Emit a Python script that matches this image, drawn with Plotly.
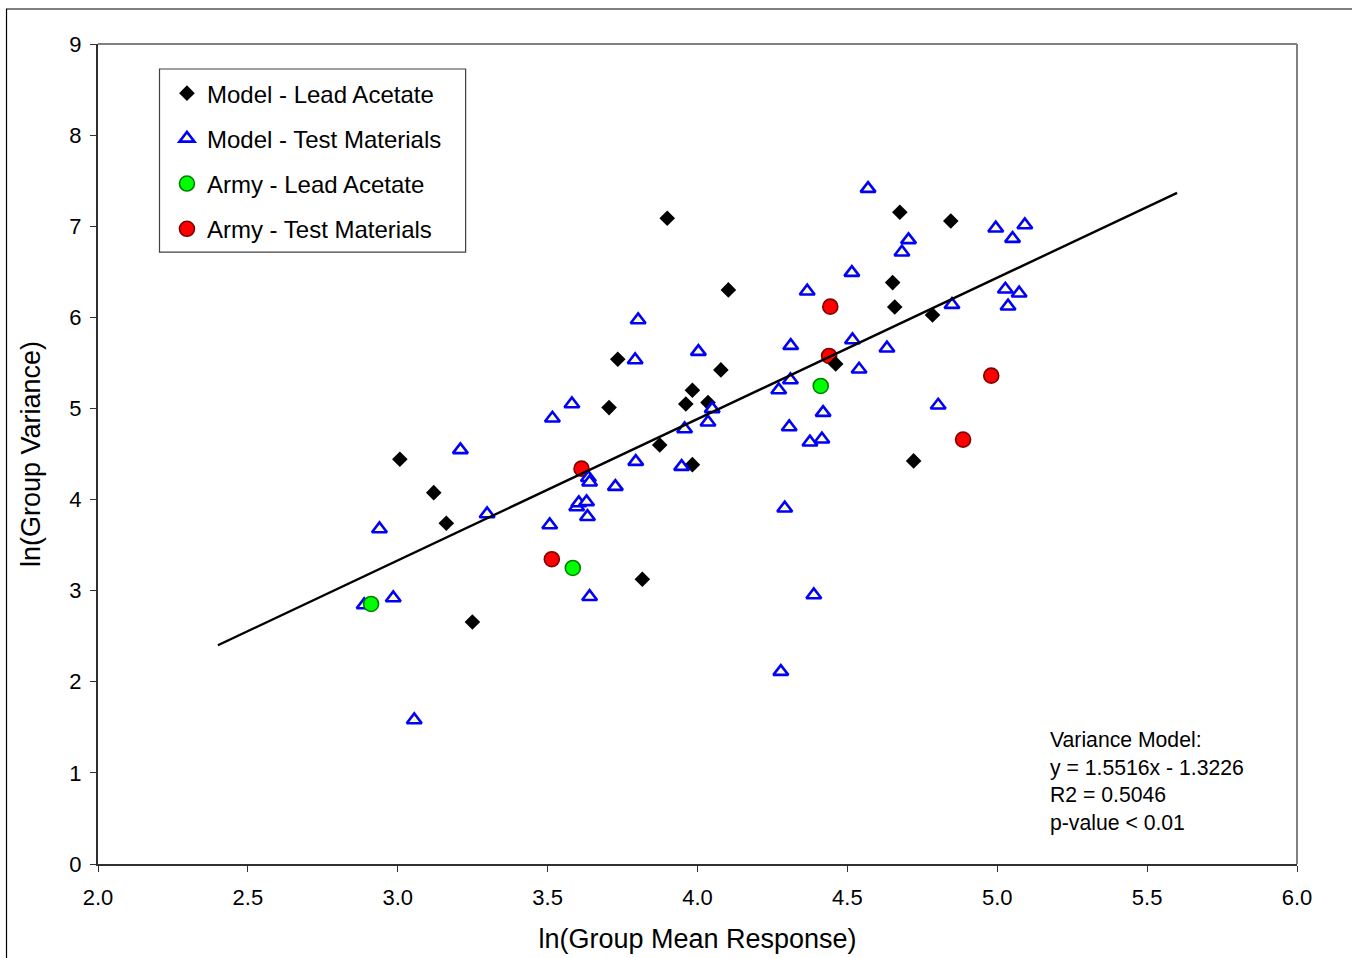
import plotly.graph_objects as go

# ---- data ----
model_lead_x = [3.007, 3.120, 3.162, 3.249, 3.705, 3.734, 3.816, 3.874, 3.899, 3.961, 3.983,
                3.983, 4.035, 4.078, 4.103, 4.461, 4.651, 4.658, 4.675, 4.721, 4.784, 4.845]
model_lead_y = [4.442, 4.076, 3.740, 2.656, 5.009, 5.540, 3.125, 4.599, 7.088, 5.049, 5.200,
                4.383, 5.064, 5.423, 6.301, 5.489, 6.381, 6.114, 7.154, 4.424, 6.026, 7.058]

model_test_x = [2.888, 2.939, 2.985, 3.055, 3.209, 3.298, 3.507, 3.516, 3.581, 3.597, 3.604,
                3.630, 3.636, 3.640, 3.633, 3.640, 3.726, 3.794, 3.792, 3.802, 3.947, 3.957,
                4.003, 4.035, 4.049, 4.271, 4.291, 4.278, 4.306, 4.311, 4.310, 4.366, 4.375,
                4.388, 4.415, 4.419, 4.515, 4.517, 4.539, 4.569, 4.632, 4.682, 4.704, 4.803,
                4.849, 4.995, 5.027, 5.036, 5.051, 5.073, 5.092]
model_test_y = [2.843, 3.677, 2.920, 1.581, 4.545, 3.842, 3.721, 4.892, 5.049, 3.919, 3.963,
                3.974, 4.240, 4.190, 3.812, 2.934, 4.142, 4.416, 5.532, 5.971, 4.361, 4.775,
                5.624, 4.849, 4.995, 5.203, 3.905, 2.111, 4.797, 5.689, 5.313, 6.287, 4.629,
                2.953, 4.662, 4.954, 6.491, 5.752, 5.430, 7.413, 5.661, 6.715, 6.850, 5.035,
                6.139, 6.978, 6.308, 6.122, 6.864, 6.265, 7.014]

army_lead_x = [2.911, 3.584, 4.411]
army_lead_y = [2.854, 3.249, 5.247]

army_test_x = [3.514, 3.613, 4.443, 4.439, 4.980, 4.886]
army_test_y = [3.345, 4.339, 6.117, 5.576, 5.360, 4.658]

fit_x = [2.4, 5.6]
fit_y = [2.401, 7.366]

x_ticks = [2.0, 2.5, 3.0, 3.5, 4.0, 4.5, 5.0, 5.5, 6.0]
x_tick_labels = ["2.0", "2.5", "3.0", "3.5", "4.0", "4.5", "5.0", "5.5", "6.0"]
y_ticks = [0, 1, 2, 3, 4, 5, 6, 7, 8, 9]

model_text = ("Variance Model:<br>y = 1.5516x - 1.3226<br>R2 = 0.5046<br>p-value &lt; 0.01")

FONT = "Liberation Sans, Arial, sans-serif"

fig = go.Figure()

fig.add_trace(go.Scatter(
    x=army_test_x, y=army_test_y, mode="markers", name="Army - Test Materials",
    legendgroup="d", legendrank=4,
    marker=dict(symbol="circle", size=15, color="#FF0000",
                line=dict(color="#800000", width=1.6))))

fig.add_trace(go.Scatter(
    x=model_lead_x, y=model_lead_y, mode="markers", name="Model - Lead Acetate",
    legendgroup="a", legendrank=1,
    marker=dict(symbol="diamond", size=12, color="#000000",
                line=dict(color="#000000", width=0))))

fig.add_trace(go.Scatter(
    x=model_test_x, y=model_test_y, mode="markers", name="Model - Test Materials",
    legendgroup="b", legendrank=2,
    marker=dict(symbol="triangle-up", size=13, color="#FFFFC0",
                line=dict(color="#0000FF", width=2.6))))

fig.add_trace(go.Scatter(
    x=army_lead_x, y=army_lead_y, mode="markers", name="Army - Lead Acetate",
    legendgroup="c", legendrank=3,
    marker=dict(symbol="circle", size=15, color="#00FF00",
                line=dict(color="#008000", width=1.6))))

fig.add_trace(go.Scatter(
    x=fit_x, y=fit_y, mode="lines", showlegend=False, hoverinfo="skip",
    line=dict(color="#000000", width=2.4)))

# frame: gray top/right edges of plot area
fig.add_shape(type="line", xref="paper", yref="paper", x0=0, x1=1, y0=1, y1=1,
              line=dict(color="#808080", width=2))
fig.add_shape(type="line", xref="paper", yref="paper", x0=1, x1=1, y0=0, y1=1,
              line=dict(color="#808080", width=2))
# outer chart border
fig.add_shape(type="rect", xref="paper", yref="paper",
              x0=-0.0763, x1=1.06, y0=-0.13, y1=1.0427,
              line=dict(color="#000000", width=1.2), layer="below")
# legend border
fig.add_shape(type="rect", xref="paper", yref="paper",
              x0=0.0513, x1=0.3066, y0=0.7463, y1=0.9695,
              line=dict(color="#404040", width=1.2))

fig.add_annotation(text=model_text, xref="paper", yref="paper",
                   x=0.7925, y=0.168, xanchor="left", yanchor="top",
                   align="left", showarrow=False,
                   font=dict(family=FONT, size=21.2, color="#000000"))

fig.update_layout(
    width=1352, height=958,
    margin=dict(l=98, r=55, t=44, b=94, autoexpand=False),
    paper_bgcolor="white", plot_bgcolor="white",
    font=dict(family=FONT, color="#000000"),
    showlegend=True,
    legend=dict(x=0.0575, y=0.967, xanchor="left", yanchor="top",
                bgcolor="rgba(255,255,255,0)", borderwidth=0,
                traceorder="grouped", tracegroupgap=11,
                font=dict(family=FONT, size=24, color="#000000")),
    xaxis=dict(range=[2.0, 6.0], tickvals=x_ticks, ticktext=x_tick_labels,
               showgrid=False, zeroline=False, showline=True, linecolor="#303030",
               linewidth=2, ticks="outside", ticklen=6, tickwidth=1.2, tickcolor="#303030",
               tickfont=dict(family=FONT, size=22, color="#000000"),
               ticklabelstandoff=7,
               title=dict(text="ln(Group Mean Response)", standoff=20,
                          font=dict(family=FONT, size=27, color="#000000"))),
    yaxis=dict(range=[0, 9], tickvals=y_ticks,
               showgrid=False, zeroline=False, showline=True, linecolor="#303030",
               linewidth=2, ticks="outside", ticklen=6, tickwidth=1.2, tickcolor="#303030",
               tickfont=dict(family=FONT, size=22, color="#000000"),
               ticklabelstandoff=4,
               title=dict(text="ln(Group Variance)", standoff=21,
                          font=dict(family=FONT, size=27, color="#000000"))),
)

fig.write_html("out.html", config={"displayModeBar": False},
               post_script="document.body.style.margin='0';document.body.style.padding='0';")
